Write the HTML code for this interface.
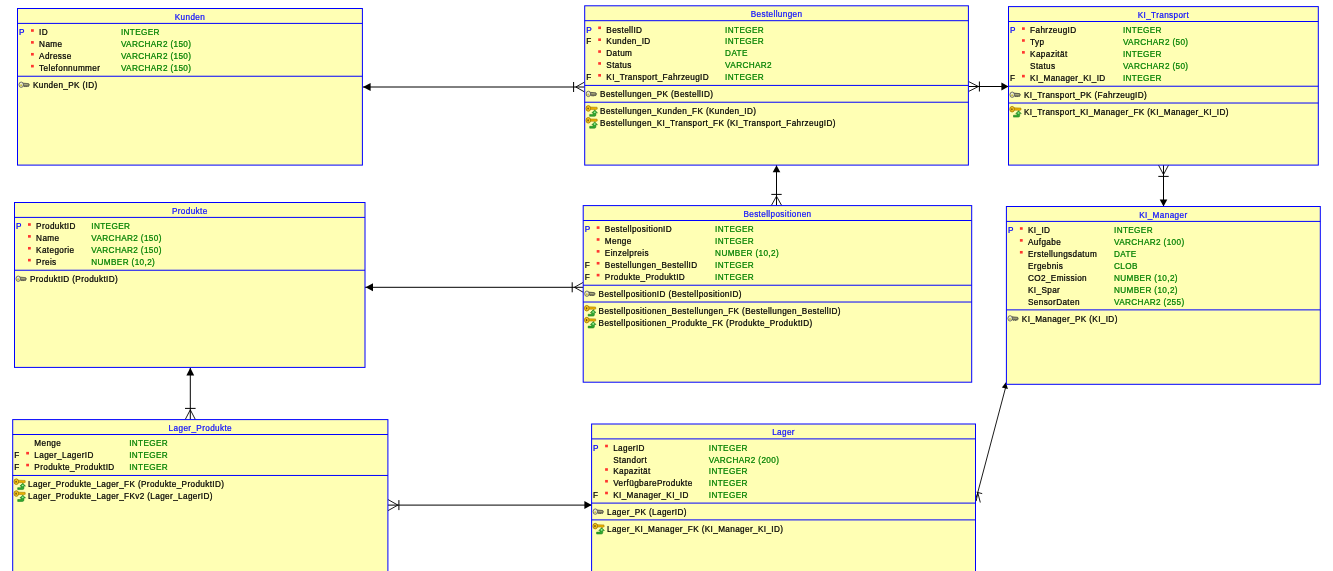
<!DOCTYPE html>
<html><head><meta charset="utf-8"><title>ER Diagram</title>
<style>
html,body{margin:0;padding:0;background:#fff;width:1333px;height:571px;overflow:hidden;}
svg{display:block;will-change:transform;}
text{font-family:"Liberation Sans", sans-serif;font-size:8.66px;letter-spacing:0.384px;stroke-width:0.25px;paint-order:stroke;}
</style></head><body>
<svg width="1333" height="571" viewBox="0 0 1333 571">
<line x1="363" y1="87.0" x2="584.7" y2="87.0" stroke="#000" stroke-width="1.0"/>
<polygon points="363,87.0 370.6,83.0 370.6,91.0" fill="#000"/>
<line x1="573.6" y1="82.0" x2="573.6" y2="92.0" stroke="#000" stroke-width="1.0"/>
<line x1="575.8" y1="87.0" x2="584.7" y2="82.0" stroke="#000" stroke-width="0.9"/>
<line x1="575.8" y1="87.0" x2="584.7" y2="92.0" stroke="#000" stroke-width="0.9"/>
<line x1="968.5" y1="86.5" x2="1008.6" y2="86.5" stroke="#000" stroke-width="1.0"/>
<polygon points="1008.6,86.5 1001.4,82.5 1001.4,90.5" fill="#000"/>
<line x1="979.4" y1="81.5" x2="979.4" y2="91.5" stroke="#000" stroke-width="1.0"/>
<line x1="978.4" y1="86.5" x2="968.5" y2="81.5" stroke="#000" stroke-width="0.9"/>
<line x1="978.4" y1="86.5" x2="968.5" y2="91.5" stroke="#000" stroke-width="0.9"/>
<line x1="1163.5" y1="165.1" x2="1163.5" y2="206.5" stroke="#000" stroke-width="1.0"/>
<polygon points="1163.5,206.5 1159.7,199.5 1167.3,199.5" fill="#000"/>
<line x1="1158.3" y1="176.4" x2="1168.7" y2="176.4" stroke="#000" stroke-width="1.0"/>
<line x1="1163.5" y1="174.6" x2="1158.5" y2="165.1" stroke="#000" stroke-width="0.9"/>
<line x1="1163.5" y1="174.6" x2="1168.5" y2="165.1" stroke="#000" stroke-width="0.9"/>
<line x1="776.5" y1="165.1" x2="776.5" y2="205.6" stroke="#000" stroke-width="1.0"/>
<polygon points="776.5,165.3 772.7,172.3 780.3,172.3" fill="#000"/>
<line x1="771.3" y1="194.4" x2="781.7" y2="194.4" stroke="#000" stroke-width="1.0"/>
<line x1="776.5" y1="196.2" x2="771.3" y2="205.6" stroke="#000" stroke-width="0.9"/>
<line x1="776.5" y1="196.2" x2="781.7" y2="205.6" stroke="#000" stroke-width="0.9"/>
<line x1="365" y1="287.3" x2="583.3" y2="287.3" stroke="#000" stroke-width="1.0"/>
<polygon points="365.6,287.3 373,283.3 373,291.3" fill="#000"/>
<line x1="572.2" y1="282.3" x2="572.2" y2="292.3" stroke="#000" stroke-width="1.0"/>
<line x1="574.4" y1="287.3" x2="583.3" y2="282.3" stroke="#000" stroke-width="0.9"/>
<line x1="574.4" y1="287.3" x2="583.3" y2="292.3" stroke="#000" stroke-width="0.9"/>
<line x1="190.3" y1="367.7" x2="190.3" y2="419.6" stroke="#000" stroke-width="1.0"/>
<polygon points="190.3,367.7 186.4,375.4 194.20000000000002,375.4" fill="#000"/>
<line x1="185.0" y1="408.4" x2="195.60000000000002" y2="408.4" stroke="#000" stroke-width="1.0"/>
<line x1="190.3" y1="409.8" x2="185.20000000000002" y2="419.6" stroke="#000" stroke-width="0.9"/>
<line x1="190.3" y1="409.8" x2="195.4" y2="419.6" stroke="#000" stroke-width="0.9"/>
<line x1="387.9" y1="505.1" x2="591.6" y2="505.1" stroke="#000" stroke-width="1.0"/>
<polygon points="591.6,505.1 584.4,501.1 584.4,509.1" fill="#000"/>
<line x1="398.9" y1="500.1" x2="398.9" y2="510.1" stroke="#000" stroke-width="1.0"/>
<line x1="397.9" y1="505.1" x2="387.9" y2="499.5" stroke="#000" stroke-width="0.9"/>
<line x1="397.9" y1="505.1" x2="387.9" y2="510.70000000000005" stroke="#000" stroke-width="0.9"/>
<line x1="1006.0" y1="386.0" x2="977.7" y2="492.7" stroke="#000" stroke-width="0.9"/>
<polygon points="1005.9,382.2 1001.9,387.4 1007.9,389.0" fill="#000"/>
<line x1="976.6" y1="492.2" x2="982.2" y2="493.6" stroke="#000" stroke-width="0.9"/>
<line x1="977.8" y1="492.7" x2="980.3" y2="502.5" stroke="#000" stroke-width="0.9"/>
<line x1="977.8" y1="492.7" x2="976.2" y2="501.1" stroke="#000" stroke-width="0.9"/>
<line x1="977.8" y1="492.7" x2="975.8" y2="498.5" stroke="#000" stroke-width="0.9"/>
<g><rect x="17.5" y="8.5" width="344.90" height="156.60" fill="#ffffb4" stroke="#0000ff" stroke-width="1"/><text transform="translate(189.95,19.90) scale(0.947,1)" fill="#1010ff" stroke="#1010ff" text-anchor="middle" stroke-width="0.1">Kunden</text><line x1="17.5" y1="23.40" x2="362.4" y2="23.40" stroke="#0000ff" stroke-width="1"/><text transform="translate(19.00,35.30) scale(0.947,1)" fill="#0000ff" stroke="#0000ff">P</text><rect x="31.00" y="29.20" width="2.8" height="2.6" fill="#ff2020" opacity="0.9"/><text transform="translate(39.10,35.30) scale(0.947,1)" fill="#000" stroke="#000">ID</text><text transform="translate(120.90,35.30) scale(0.947,1)" fill="#008000" stroke="#008000">INTEGER</text><rect x="31.00" y="41.08" width="2.8" height="2.6" fill="#ff2020" opacity="0.9"/><text transform="translate(39.10,47.18) scale(0.947,1)" fill="#000" stroke="#000">Name</text><text transform="translate(120.90,47.18) scale(0.947,1)" fill="#008000" stroke="#008000">VARCHAR2 (150)</text><rect x="31.00" y="52.96" width="2.8" height="2.6" fill="#ff2020" opacity="0.9"/><text transform="translate(39.10,59.06) scale(0.947,1)" fill="#000" stroke="#000">Adresse</text><text transform="translate(120.90,59.06) scale(0.947,1)" fill="#008000" stroke="#008000">VARCHAR2 (150)</text><rect x="31.00" y="64.84" width="2.8" height="2.6" fill="#ff2020" opacity="0.9"/><text transform="translate(39.10,70.94) scale(0.947,1)" fill="#000" stroke="#000">Telefonnummer</text><text transform="translate(120.90,70.94) scale(0.947,1)" fill="#008000" stroke="#008000">VARCHAR2 (150)</text><line x1="17.5" y1="76.24" x2="362.4" y2="76.24" stroke="#0000ff" stroke-width="1"/><g transform="translate(17.50,88.04)"><path d="M5.2,-4.9 L11.2,-4.4 Q12.4,-3.4 11.4,-2.2 L10.6,-1.2 L9.8,-2.0 L9.0,-1.0 L8.2,-2.0 L7.4,-1.0 L6.6,-2.0 L5.2,-2.0 Z" fill="#7a7a60" stroke="#303030" stroke-width="0.6"/><ellipse cx="3.7" cy="-3.3" rx="2.2" ry="2.7" fill="#efefd0" stroke="#505050" stroke-width="0.8"/><ellipse cx="3.6" cy="-2.6" rx="1.0" ry="1.1" fill="#c8c040"/><path d="M6.6,-3.6 L10.6,-3.4" stroke="#d8d890" stroke-width="0.5"/></g><text transform="translate(32.90,88.04) scale(0.947,1)" fill="#000" stroke="#000">Kunden_PK (ID)</text></g>
<g><rect x="584.7" y="5.8" width="383.70" height="159.30" fill="#ffffb4" stroke="#0000ff" stroke-width="1"/><text transform="translate(776.55,17.20) scale(0.947,1)" fill="#1010ff" stroke="#1010ff" text-anchor="middle" stroke-width="0.1">Bestellungen</text><line x1="584.7" y1="20.70" x2="968.4" y2="20.70" stroke="#0000ff" stroke-width="1"/><text transform="translate(586.20,32.60) scale(0.947,1)" fill="#0000ff" stroke="#0000ff">P</text><rect x="598.20" y="26.50" width="2.8" height="2.6" fill="#ff2020" opacity="0.9"/><text transform="translate(606.30,32.60) scale(0.947,1)" fill="#000" stroke="#000">BestellID</text><text transform="translate(725.10,32.60) scale(0.947,1)" fill="#008000" stroke="#008000">INTEGER</text><text transform="translate(586.20,44.48) scale(0.947,1)" fill="#000" stroke="#000">F</text><rect x="598.20" y="38.38" width="2.8" height="2.6" fill="#ff2020" opacity="0.9"/><text transform="translate(606.30,44.48) scale(0.947,1)" fill="#000" stroke="#000">Kunden_ID</text><text transform="translate(725.10,44.48) scale(0.947,1)" fill="#008000" stroke="#008000">INTEGER</text><rect x="598.20" y="50.26" width="2.8" height="2.6" fill="#ff2020" opacity="0.9"/><text transform="translate(606.30,56.36) scale(0.947,1)" fill="#000" stroke="#000">Datum</text><text transform="translate(725.10,56.36) scale(0.947,1)" fill="#008000" stroke="#008000">DATE</text><rect x="598.20" y="62.14" width="2.8" height="2.6" fill="#ff2020" opacity="0.9"/><text transform="translate(606.30,68.24) scale(0.947,1)" fill="#000" stroke="#000">Status</text><text transform="translate(725.10,68.24) scale(0.947,1)" fill="#008000" stroke="#008000">VARCHAR2</text><text transform="translate(586.20,80.12) scale(0.947,1)" fill="#000" stroke="#000">F</text><rect x="598.20" y="74.02" width="2.8" height="2.6" fill="#ff2020" opacity="0.9"/><text transform="translate(606.30,80.12) scale(0.947,1)" fill="#000" stroke="#000">KI_Transport_FahrzeugID</text><text transform="translate(725.10,80.12) scale(0.947,1)" fill="#008000" stroke="#008000">INTEGER</text><line x1="584.7" y1="85.42" x2="968.4" y2="85.42" stroke="#0000ff" stroke-width="1"/><g transform="translate(584.70,97.22)"><path d="M5.2,-4.9 L11.2,-4.4 Q12.4,-3.4 11.4,-2.2 L10.6,-1.2 L9.8,-2.0 L9.0,-1.0 L8.2,-2.0 L7.4,-1.0 L6.6,-2.0 L5.2,-2.0 Z" fill="#7a7a60" stroke="#303030" stroke-width="0.6"/><ellipse cx="3.7" cy="-3.3" rx="2.2" ry="2.7" fill="#efefd0" stroke="#505050" stroke-width="0.8"/><ellipse cx="3.6" cy="-2.6" rx="1.0" ry="1.1" fill="#c8c040"/><path d="M6.6,-3.6 L10.6,-3.4" stroke="#d8d890" stroke-width="0.5"/></g><text transform="translate(600.10,97.22) scale(0.947,1)" fill="#000" stroke="#000">Bestellungen_PK (BestellID)</text><line x1="584.7" y1="102.22" x2="968.4" y2="102.22" stroke="#0000ff" stroke-width="1"/><g transform="translate(584.70,114.02)"><path d="M5.4,-7.0 L12.4,-6.8 L12.6,-4.9 L11.2,-4.6 L10.6,-3.8 L9.6,-4.6 L5.4,-4.6 Z" fill="#e8b000" stroke="#9a7000" stroke-width="0.5"/><ellipse cx="3.6" cy="-5.6" rx="2.3" ry="2.8" fill="#f6c820" stroke="#9a7000" stroke-width="0.8"/><ellipse cx="3.4" cy="-5.5" rx="0.8" ry="1.1" fill="#705010"/><path d="M5.0,0.4 L8.4,0.4 L8.4,-1.2 L7.2,-1.2 L10.0,-4.0 L12.8,-1.2 L11.2,-1.2 L11.2,0.9 Q11.2,2.3 9.8,2.3 L5.0,2.3 Z" fill="#30a830" stroke="#107010" stroke-width="0.5"/><ellipse cx="10.0" cy="-1.8" rx="1.0" ry="0.8" fill="#a0f0a0"/></g><text transform="translate(600.10,114.02) scale(0.947,1)" fill="#000" stroke="#000">Bestellungen_Kunden_FK (Kunden_ID)</text><g transform="translate(584.70,125.90)"><path d="M5.4,-7.0 L12.4,-6.8 L12.6,-4.9 L11.2,-4.6 L10.6,-3.8 L9.6,-4.6 L5.4,-4.6 Z" fill="#e8b000" stroke="#9a7000" stroke-width="0.5"/><ellipse cx="3.6" cy="-5.6" rx="2.3" ry="2.8" fill="#f6c820" stroke="#9a7000" stroke-width="0.8"/><ellipse cx="3.4" cy="-5.5" rx="0.8" ry="1.1" fill="#705010"/><path d="M5.0,0.4 L8.4,0.4 L8.4,-1.2 L7.2,-1.2 L10.0,-4.0 L12.8,-1.2 L11.2,-1.2 L11.2,0.9 Q11.2,2.3 9.8,2.3 L5.0,2.3 Z" fill="#30a830" stroke="#107010" stroke-width="0.5"/><ellipse cx="10.0" cy="-1.8" rx="1.0" ry="0.8" fill="#a0f0a0"/></g><text transform="translate(600.10,125.90) scale(0.947,1)" fill="#000" stroke="#000">Bestellungen_KI_Transport_FK (KI_Transport_FahrzeugID)</text></g>
<g><rect x="1008.5" y="6.6" width="309.80" height="158.50" fill="#ffffb4" stroke="#0000ff" stroke-width="1"/><text transform="translate(1163.40,18.00) scale(0.947,1)" fill="#1010ff" stroke="#1010ff" text-anchor="middle" stroke-width="0.1">KI_Transport</text><line x1="1008.5" y1="21.50" x2="1318.3" y2="21.50" stroke="#0000ff" stroke-width="1"/><text transform="translate(1010.00,33.40) scale(0.947,1)" fill="#0000ff" stroke="#0000ff">P</text><rect x="1022.00" y="27.30" width="2.8" height="2.6" fill="#ff2020" opacity="0.9"/><text transform="translate(1030.10,33.40) scale(0.947,1)" fill="#000" stroke="#000">FahrzeugID</text><text transform="translate(1122.90,33.40) scale(0.947,1)" fill="#008000" stroke="#008000">INTEGER</text><rect x="1022.00" y="39.18" width="2.8" height="2.6" fill="#ff2020" opacity="0.9"/><text transform="translate(1030.10,45.28) scale(0.947,1)" fill="#000" stroke="#000">Typ</text><text transform="translate(1122.90,45.28) scale(0.947,1)" fill="#008000" stroke="#008000">VARCHAR2 (50)</text><rect x="1022.00" y="51.06" width="2.8" height="2.6" fill="#ff2020" opacity="0.9"/><text transform="translate(1030.10,57.16) scale(0.947,1)" fill="#000" stroke="#000">Kapazität</text><text transform="translate(1122.90,57.16) scale(0.947,1)" fill="#008000" stroke="#008000">INTEGER</text><text transform="translate(1030.10,69.04) scale(0.947,1)" fill="#000" stroke="#000">Status</text><text transform="translate(1122.90,69.04) scale(0.947,1)" fill="#008000" stroke="#008000">VARCHAR2 (50)</text><text transform="translate(1010.00,80.92) scale(0.947,1)" fill="#000" stroke="#000">F</text><rect x="1022.00" y="74.82" width="2.8" height="2.6" fill="#ff2020" opacity="0.9"/><text transform="translate(1030.10,80.92) scale(0.947,1)" fill="#000" stroke="#000">KI_Manager_KI_ID</text><text transform="translate(1122.90,80.92) scale(0.947,1)" fill="#008000" stroke="#008000">INTEGER</text><line x1="1008.5" y1="86.22" x2="1318.3" y2="86.22" stroke="#0000ff" stroke-width="1"/><g transform="translate(1008.50,98.02)"><path d="M5.2,-4.9 L11.2,-4.4 Q12.4,-3.4 11.4,-2.2 L10.6,-1.2 L9.8,-2.0 L9.0,-1.0 L8.2,-2.0 L7.4,-1.0 L6.6,-2.0 L5.2,-2.0 Z" fill="#7a7a60" stroke="#303030" stroke-width="0.6"/><ellipse cx="3.7" cy="-3.3" rx="2.2" ry="2.7" fill="#efefd0" stroke="#505050" stroke-width="0.8"/><ellipse cx="3.6" cy="-2.6" rx="1.0" ry="1.1" fill="#c8c040"/><path d="M6.6,-3.6 L10.6,-3.4" stroke="#d8d890" stroke-width="0.5"/></g><text transform="translate(1023.90,98.02) scale(0.947,1)" fill="#000" stroke="#000">KI_Transport_PK (FahrzeugID)</text><line x1="1008.5" y1="103.02" x2="1318.3" y2="103.02" stroke="#0000ff" stroke-width="1"/><g transform="translate(1008.50,114.82)"><path d="M5.4,-7.0 L12.4,-6.8 L12.6,-4.9 L11.2,-4.6 L10.6,-3.8 L9.6,-4.6 L5.4,-4.6 Z" fill="#e8b000" stroke="#9a7000" stroke-width="0.5"/><ellipse cx="3.6" cy="-5.6" rx="2.3" ry="2.8" fill="#f6c820" stroke="#9a7000" stroke-width="0.8"/><ellipse cx="3.4" cy="-5.5" rx="0.8" ry="1.1" fill="#705010"/><path d="M5.0,0.4 L8.4,0.4 L8.4,-1.2 L7.2,-1.2 L10.0,-4.0 L12.8,-1.2 L11.2,-1.2 L11.2,0.9 Q11.2,2.3 9.8,2.3 L5.0,2.3 Z" fill="#30a830" stroke="#107010" stroke-width="0.5"/><ellipse cx="10.0" cy="-1.8" rx="1.0" ry="0.8" fill="#a0f0a0"/></g><text transform="translate(1023.90,114.82) scale(0.947,1)" fill="#000" stroke="#000">KI_Transport_KI_Manager_FK (KI_Manager_KI_ID)</text></g>
<g><rect x="14.5" y="202.5" width="350.50" height="164.90" fill="#ffffb4" stroke="#0000ff" stroke-width="1"/><text transform="translate(189.75,213.90) scale(0.947,1)" fill="#1010ff" stroke="#1010ff" text-anchor="middle" stroke-width="0.1">Produkte</text><line x1="14.5" y1="217.40" x2="365.0" y2="217.40" stroke="#0000ff" stroke-width="1"/><text transform="translate(16.00,229.30) scale(0.947,1)" fill="#0000ff" stroke="#0000ff">P</text><rect x="28.00" y="223.20" width="2.8" height="2.6" fill="#ff2020" opacity="0.9"/><text transform="translate(36.10,229.30) scale(0.947,1)" fill="#000" stroke="#000">ProduktID</text><text transform="translate(91.30,229.30) scale(0.947,1)" fill="#008000" stroke="#008000">INTEGER</text><rect x="28.00" y="235.08" width="2.8" height="2.6" fill="#ff2020" opacity="0.9"/><text transform="translate(36.10,241.18) scale(0.947,1)" fill="#000" stroke="#000">Name</text><text transform="translate(91.30,241.18) scale(0.947,1)" fill="#008000" stroke="#008000">VARCHAR2 (150)</text><rect x="28.00" y="246.96" width="2.8" height="2.6" fill="#ff2020" opacity="0.9"/><text transform="translate(36.10,253.06) scale(0.947,1)" fill="#000" stroke="#000">Kategorie</text><text transform="translate(91.30,253.06) scale(0.947,1)" fill="#008000" stroke="#008000">VARCHAR2 (150)</text><rect x="28.00" y="258.84" width="2.8" height="2.6" fill="#ff2020" opacity="0.9"/><text transform="translate(36.10,264.94) scale(0.947,1)" fill="#000" stroke="#000">Preis</text><text transform="translate(91.30,264.94) scale(0.947,1)" fill="#008000" stroke="#008000">NUMBER (10,2)</text><line x1="14.5" y1="270.24" x2="365.0" y2="270.24" stroke="#0000ff" stroke-width="1"/><g transform="translate(14.50,282.04)"><path d="M5.2,-4.9 L11.2,-4.4 Q12.4,-3.4 11.4,-2.2 L10.6,-1.2 L9.8,-2.0 L9.0,-1.0 L8.2,-2.0 L7.4,-1.0 L6.6,-2.0 L5.2,-2.0 Z" fill="#7a7a60" stroke="#303030" stroke-width="0.6"/><ellipse cx="3.7" cy="-3.3" rx="2.2" ry="2.7" fill="#efefd0" stroke="#505050" stroke-width="0.8"/><ellipse cx="3.6" cy="-2.6" rx="1.0" ry="1.1" fill="#c8c040"/><path d="M6.6,-3.6 L10.6,-3.4" stroke="#d8d890" stroke-width="0.5"/></g><text transform="translate(29.90,282.04) scale(0.947,1)" fill="#000" stroke="#000">ProduktID (ProduktID)</text></g>
<g><rect x="583.2" y="205.6" width="388.50" height="176.60" fill="#ffffb4" stroke="#0000ff" stroke-width="1"/><text transform="translate(777.45,217.00) scale(0.947,1)" fill="#1010ff" stroke="#1010ff" text-anchor="middle" stroke-width="0.1">Bestellpositionen</text><line x1="583.2" y1="220.50" x2="971.7" y2="220.50" stroke="#0000ff" stroke-width="1"/><text transform="translate(584.70,232.40) scale(0.947,1)" fill="#0000ff" stroke="#0000ff">P</text><rect x="596.70" y="226.30" width="2.8" height="2.6" fill="#ff2020" opacity="0.9"/><text transform="translate(604.80,232.40) scale(0.947,1)" fill="#000" stroke="#000">BestellpositionID</text><text transform="translate(715.10,232.40) scale(0.947,1)" fill="#008000" stroke="#008000">INTEGER</text><rect x="596.70" y="238.18" width="2.8" height="2.6" fill="#ff2020" opacity="0.9"/><text transform="translate(604.80,244.28) scale(0.947,1)" fill="#000" stroke="#000">Menge</text><text transform="translate(715.10,244.28) scale(0.947,1)" fill="#008000" stroke="#008000">INTEGER</text><rect x="596.70" y="250.06" width="2.8" height="2.6" fill="#ff2020" opacity="0.9"/><text transform="translate(604.80,256.16) scale(0.947,1)" fill="#000" stroke="#000">Einzelpreis</text><text transform="translate(715.10,256.16) scale(0.947,1)" fill="#008000" stroke="#008000">NUMBER (10,2)</text><text transform="translate(584.70,268.04) scale(0.947,1)" fill="#000" stroke="#000">F</text><rect x="596.70" y="261.94" width="2.8" height="2.6" fill="#ff2020" opacity="0.9"/><text transform="translate(604.80,268.04) scale(0.947,1)" fill="#000" stroke="#000">Bestellungen_BestellID</text><text transform="translate(715.10,268.04) scale(0.947,1)" fill="#008000" stroke="#008000">INTEGER</text><text transform="translate(584.70,279.92) scale(0.947,1)" fill="#000" stroke="#000">F</text><rect x="596.70" y="273.82" width="2.8" height="2.6" fill="#ff2020" opacity="0.9"/><text transform="translate(604.80,279.92) scale(0.947,1)" fill="#000" stroke="#000">Produkte_ProduktID</text><text transform="translate(715.10,279.92) scale(0.947,1)" fill="#008000" stroke="#008000">INTEGER</text><line x1="583.2" y1="285.22" x2="971.7" y2="285.22" stroke="#0000ff" stroke-width="1"/><g transform="translate(583.20,297.02)"><path d="M5.2,-4.9 L11.2,-4.4 Q12.4,-3.4 11.4,-2.2 L10.6,-1.2 L9.8,-2.0 L9.0,-1.0 L8.2,-2.0 L7.4,-1.0 L6.6,-2.0 L5.2,-2.0 Z" fill="#7a7a60" stroke="#303030" stroke-width="0.6"/><ellipse cx="3.7" cy="-3.3" rx="2.2" ry="2.7" fill="#efefd0" stroke="#505050" stroke-width="0.8"/><ellipse cx="3.6" cy="-2.6" rx="1.0" ry="1.1" fill="#c8c040"/><path d="M6.6,-3.6 L10.6,-3.4" stroke="#d8d890" stroke-width="0.5"/></g><text transform="translate(598.60,297.02) scale(0.947,1)" fill="#000" stroke="#000">BestellpositionID (BestellpositionID)</text><line x1="583.2" y1="302.02" x2="971.7" y2="302.02" stroke="#0000ff" stroke-width="1"/><g transform="translate(583.20,313.82)"><path d="M5.4,-7.0 L12.4,-6.8 L12.6,-4.9 L11.2,-4.6 L10.6,-3.8 L9.6,-4.6 L5.4,-4.6 Z" fill="#e8b000" stroke="#9a7000" stroke-width="0.5"/><ellipse cx="3.6" cy="-5.6" rx="2.3" ry="2.8" fill="#f6c820" stroke="#9a7000" stroke-width="0.8"/><ellipse cx="3.4" cy="-5.5" rx="0.8" ry="1.1" fill="#705010"/><path d="M5.0,0.4 L8.4,0.4 L8.4,-1.2 L7.2,-1.2 L10.0,-4.0 L12.8,-1.2 L11.2,-1.2 L11.2,0.9 Q11.2,2.3 9.8,2.3 L5.0,2.3 Z" fill="#30a830" stroke="#107010" stroke-width="0.5"/><ellipse cx="10.0" cy="-1.8" rx="1.0" ry="0.8" fill="#a0f0a0"/></g><text transform="translate(598.60,313.82) scale(0.947,1)" fill="#000" stroke="#000">Bestellpositionen_Bestellungen_FK (Bestellungen_BestellID)</text><g transform="translate(583.20,325.70)"><path d="M5.4,-7.0 L12.4,-6.8 L12.6,-4.9 L11.2,-4.6 L10.6,-3.8 L9.6,-4.6 L5.4,-4.6 Z" fill="#e8b000" stroke="#9a7000" stroke-width="0.5"/><ellipse cx="3.6" cy="-5.6" rx="2.3" ry="2.8" fill="#f6c820" stroke="#9a7000" stroke-width="0.8"/><ellipse cx="3.4" cy="-5.5" rx="0.8" ry="1.1" fill="#705010"/><path d="M5.0,0.4 L8.4,0.4 L8.4,-1.2 L7.2,-1.2 L10.0,-4.0 L12.8,-1.2 L11.2,-1.2 L11.2,0.9 Q11.2,2.3 9.8,2.3 L5.0,2.3 Z" fill="#30a830" stroke="#107010" stroke-width="0.5"/><ellipse cx="10.0" cy="-1.8" rx="1.0" ry="0.8" fill="#a0f0a0"/></g><text transform="translate(598.60,325.70) scale(0.947,1)" fill="#000" stroke="#000">Bestellpositionen_Produkte_FK (Produkte_ProduktID)</text></g>
<g><rect x="1006.4" y="206.5" width="313.90" height="177.80" fill="#ffffb4" stroke="#0000ff" stroke-width="1"/><text transform="translate(1163.35,217.90) scale(0.947,1)" fill="#1010ff" stroke="#1010ff" text-anchor="middle" stroke-width="0.1">KI_Manager</text><line x1="1006.4" y1="221.40" x2="1320.3" y2="221.40" stroke="#0000ff" stroke-width="1"/><text transform="translate(1007.90,233.30) scale(0.947,1)" fill="#0000ff" stroke="#0000ff">P</text><rect x="1019.90" y="227.20" width="2.8" height="2.6" fill="#ff2020" opacity="0.9"/><text transform="translate(1028.00,233.30) scale(0.947,1)" fill="#000" stroke="#000">KI_ID</text><text transform="translate(1114.00,233.30) scale(0.947,1)" fill="#008000" stroke="#008000">INTEGER</text><rect x="1019.90" y="239.08" width="2.8" height="2.6" fill="#ff2020" opacity="0.9"/><text transform="translate(1028.00,245.18) scale(0.947,1)" fill="#000" stroke="#000">Aufgabe</text><text transform="translate(1114.00,245.18) scale(0.947,1)" fill="#008000" stroke="#008000">VARCHAR2 (100)</text><rect x="1019.90" y="250.96" width="2.8" height="2.6" fill="#ff2020" opacity="0.9"/><text transform="translate(1028.00,257.06) scale(0.947,1)" fill="#000" stroke="#000">Erstellungsdatum</text><text transform="translate(1114.00,257.06) scale(0.947,1)" fill="#008000" stroke="#008000">DATE</text><text transform="translate(1028.00,268.94) scale(0.947,1)" fill="#000" stroke="#000">Ergebnis</text><text transform="translate(1114.00,268.94) scale(0.947,1)" fill="#008000" stroke="#008000">CLOB</text><text transform="translate(1028.00,280.82) scale(0.947,1)" fill="#000" stroke="#000">CO2_Emission</text><text transform="translate(1114.00,280.82) scale(0.947,1)" fill="#008000" stroke="#008000">NUMBER (10,2)</text><text transform="translate(1028.00,292.70) scale(0.947,1)" fill="#000" stroke="#000">KI_Spar</text><text transform="translate(1114.00,292.70) scale(0.947,1)" fill="#008000" stroke="#008000">NUMBER (10,2)</text><text transform="translate(1028.00,304.58) scale(0.947,1)" fill="#000" stroke="#000">SensorDaten</text><text transform="translate(1114.00,304.58) scale(0.947,1)" fill="#008000" stroke="#008000">VARCHAR2 (255)</text><line x1="1006.4" y1="309.88" x2="1320.3" y2="309.88" stroke="#0000ff" stroke-width="1"/><g transform="translate(1006.40,321.68)"><path d="M5.2,-4.9 L11.2,-4.4 Q12.4,-3.4 11.4,-2.2 L10.6,-1.2 L9.8,-2.0 L9.0,-1.0 L8.2,-2.0 L7.4,-1.0 L6.6,-2.0 L5.2,-2.0 Z" fill="#7a7a60" stroke="#303030" stroke-width="0.6"/><ellipse cx="3.7" cy="-3.3" rx="2.2" ry="2.7" fill="#efefd0" stroke="#505050" stroke-width="0.8"/><ellipse cx="3.6" cy="-2.6" rx="1.0" ry="1.1" fill="#c8c040"/><path d="M6.6,-3.6 L10.6,-3.4" stroke="#d8d890" stroke-width="0.5"/></g><text transform="translate(1021.80,321.68) scale(0.947,1)" fill="#000" stroke="#000">KI_Manager_PK (KI_ID)</text></g>
<g><rect x="12.7" y="419.6" width="375.20" height="156.40" fill="#ffffb4" stroke="#0000ff" stroke-width="1"/><text transform="translate(200.30,431.00) scale(0.947,1)" fill="#1010ff" stroke="#1010ff" text-anchor="middle" stroke-width="0.1">Lager_Produkte</text><line x1="12.7" y1="434.50" x2="387.9" y2="434.50" stroke="#0000ff" stroke-width="1"/><text transform="translate(34.30,446.10) scale(0.947,1)" fill="#000" stroke="#000">Menge</text><text transform="translate(129.20,446.10) scale(0.947,1)" fill="#008000" stroke="#008000">INTEGER</text><text transform="translate(14.20,457.98) scale(0.947,1)" fill="#000" stroke="#000">F</text><rect x="26.20" y="451.88" width="2.8" height="2.6" fill="#ff2020" opacity="0.9"/><text transform="translate(34.30,457.98) scale(0.947,1)" fill="#000" stroke="#000">Lager_LagerID</text><text transform="translate(129.20,457.98) scale(0.947,1)" fill="#008000" stroke="#008000">INTEGER</text><text transform="translate(14.20,469.86) scale(0.947,1)" fill="#000" stroke="#000">F</text><rect x="26.20" y="463.76" width="2.8" height="2.6" fill="#ff2020" opacity="0.9"/><text transform="translate(34.30,469.86) scale(0.947,1)" fill="#000" stroke="#000">Produkte_ProduktID</text><text transform="translate(129.20,469.86) scale(0.947,1)" fill="#008000" stroke="#008000">INTEGER</text><line x1="12.7" y1="475.46" x2="387.9" y2="475.46" stroke="#0000ff" stroke-width="1"/><g transform="translate(12.70,487.26)"><path d="M5.4,-7.0 L12.4,-6.8 L12.6,-4.9 L11.2,-4.6 L10.6,-3.8 L9.6,-4.6 L5.4,-4.6 Z" fill="#e8b000" stroke="#9a7000" stroke-width="0.5"/><ellipse cx="3.6" cy="-5.6" rx="2.3" ry="2.8" fill="#f6c820" stroke="#9a7000" stroke-width="0.8"/><ellipse cx="3.4" cy="-5.5" rx="0.8" ry="1.1" fill="#705010"/><path d="M5.0,0.4 L8.4,0.4 L8.4,-1.2 L7.2,-1.2 L10.0,-4.0 L12.8,-1.2 L11.2,-1.2 L11.2,0.9 Q11.2,2.3 9.8,2.3 L5.0,2.3 Z" fill="#30a830" stroke="#107010" stroke-width="0.5"/><ellipse cx="10.0" cy="-1.8" rx="1.0" ry="0.8" fill="#a0f0a0"/></g><text transform="translate(28.10,487.26) scale(0.947,1)" fill="#000" stroke="#000">Lager_Produkte_Lager_FK (Produkte_ProduktID)</text><g transform="translate(12.70,499.14)"><path d="M5.4,-7.0 L12.4,-6.8 L12.6,-4.9 L11.2,-4.6 L10.6,-3.8 L9.6,-4.6 L5.4,-4.6 Z" fill="#e8b000" stroke="#9a7000" stroke-width="0.5"/><ellipse cx="3.6" cy="-5.6" rx="2.3" ry="2.8" fill="#f6c820" stroke="#9a7000" stroke-width="0.8"/><ellipse cx="3.4" cy="-5.5" rx="0.8" ry="1.1" fill="#705010"/><path d="M5.0,0.4 L8.4,0.4 L8.4,-1.2 L7.2,-1.2 L10.0,-4.0 L12.8,-1.2 L11.2,-1.2 L11.2,0.9 Q11.2,2.3 9.8,2.3 L5.0,2.3 Z" fill="#30a830" stroke="#107010" stroke-width="0.5"/><ellipse cx="10.0" cy="-1.8" rx="1.0" ry="0.8" fill="#a0f0a0"/></g><text transform="translate(28.10,499.14) scale(0.947,1)" fill="#000" stroke="#000">Lager_Produkte_Lager_FKv2 (Lager_LagerID)</text></g>
<g><rect x="591.6" y="424.0" width="383.90" height="152.00" fill="#ffffb4" stroke="#0000ff" stroke-width="1"/><text transform="translate(783.55,435.40) scale(0.947,1)" fill="#1010ff" stroke="#1010ff" text-anchor="middle" stroke-width="0.1">Lager</text><line x1="591.6" y1="438.90" x2="975.5" y2="438.90" stroke="#0000ff" stroke-width="1"/><text transform="translate(593.10,450.80) scale(0.947,1)" fill="#0000ff" stroke="#0000ff">P</text><rect x="605.10" y="444.70" width="2.8" height="2.6" fill="#ff2020" opacity="0.9"/><text transform="translate(613.20,450.80) scale(0.947,1)" fill="#000" stroke="#000">LagerID</text><text transform="translate(708.80,450.80) scale(0.947,1)" fill="#008000" stroke="#008000">INTEGER</text><text transform="translate(613.20,462.55) scale(0.947,1)" fill="#000" stroke="#000">Standort</text><text transform="translate(708.80,462.55) scale(0.947,1)" fill="#008000" stroke="#008000">VARCHAR2 (200)</text><rect x="605.10" y="468.20" width="2.8" height="2.6" fill="#ff2020" opacity="0.9"/><text transform="translate(613.20,474.30) scale(0.947,1)" fill="#000" stroke="#000">Kapazität</text><text transform="translate(708.80,474.30) scale(0.947,1)" fill="#008000" stroke="#008000">INTEGER</text><rect x="605.10" y="479.95" width="2.8" height="2.6" fill="#ff2020" opacity="0.9"/><text transform="translate(613.20,486.05) scale(0.947,1)" fill="#000" stroke="#000">VerfügbareProdukte</text><text transform="translate(708.80,486.05) scale(0.947,1)" fill="#008000" stroke="#008000">INTEGER</text><text transform="translate(593.10,497.80) scale(0.947,1)" fill="#000" stroke="#000">F</text><rect x="605.10" y="491.70" width="2.8" height="2.6" fill="#ff2020" opacity="0.9"/><text transform="translate(613.20,497.80) scale(0.947,1)" fill="#000" stroke="#000">KI_Manager_KI_ID</text><text transform="translate(708.80,497.80) scale(0.947,1)" fill="#008000" stroke="#008000">INTEGER</text><line x1="591.6" y1="503.10" x2="975.5" y2="503.10" stroke="#0000ff" stroke-width="1"/><g transform="translate(591.60,514.90)"><path d="M5.2,-4.9 L11.2,-4.4 Q12.4,-3.4 11.4,-2.2 L10.6,-1.2 L9.8,-2.0 L9.0,-1.0 L8.2,-2.0 L7.4,-1.0 L6.6,-2.0 L5.2,-2.0 Z" fill="#7a7a60" stroke="#303030" stroke-width="0.6"/><ellipse cx="3.7" cy="-3.3" rx="2.2" ry="2.7" fill="#efefd0" stroke="#505050" stroke-width="0.8"/><ellipse cx="3.6" cy="-2.6" rx="1.0" ry="1.1" fill="#c8c040"/><path d="M6.6,-3.6 L10.6,-3.4" stroke="#d8d890" stroke-width="0.5"/></g><text transform="translate(607.00,514.90) scale(0.947,1)" fill="#000" stroke="#000">Lager_PK (LagerID)</text><line x1="591.6" y1="519.90" x2="975.5" y2="519.90" stroke="#0000ff" stroke-width="1"/><g transform="translate(591.60,531.70)"><path d="M5.4,-7.0 L12.4,-6.8 L12.6,-4.9 L11.2,-4.6 L10.6,-3.8 L9.6,-4.6 L5.4,-4.6 Z" fill="#e8b000" stroke="#9a7000" stroke-width="0.5"/><ellipse cx="3.6" cy="-5.6" rx="2.3" ry="2.8" fill="#f6c820" stroke="#9a7000" stroke-width="0.8"/><ellipse cx="3.4" cy="-5.5" rx="0.8" ry="1.1" fill="#705010"/><path d="M5.0,0.4 L8.4,0.4 L8.4,-1.2 L7.2,-1.2 L10.0,-4.0 L12.8,-1.2 L11.2,-1.2 L11.2,0.9 Q11.2,2.3 9.8,2.3 L5.0,2.3 Z" fill="#30a830" stroke="#107010" stroke-width="0.5"/><ellipse cx="10.0" cy="-1.8" rx="1.0" ry="0.8" fill="#a0f0a0"/></g><text transform="translate(607.00,531.70) scale(0.947,1)" fill="#000" stroke="#000">Lager_KI_Manager_FK (KI_Manager_KI_ID)</text></g>
</svg>
</body></html>
